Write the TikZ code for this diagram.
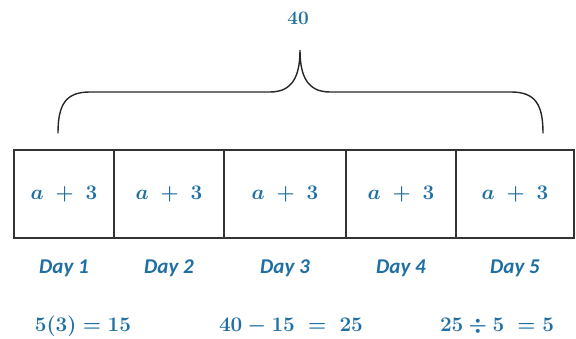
\documentclass[tikz,border=0pt]{standalone}
\usepackage{amsmath}
\usepackage{fontspec}
\newfontfamily\dayfont{Carlito}
\usepackage{xcolor}
\usepackage{tikz}
\usetikzlibrary{positioning}
\definecolor{tealblue}{HTML}{1F6FA3}
\definecolor{boxgray}{HTML}{333333}

\begin{document}
\begin{tikzpicture}[x=1pt,y=1pt,
  cell/.style={draw=boxgray,line width=1.3pt,outer sep=0pt,inner sep=0pt,minimum height=88pt,text=tealblue,font=\fontsize{22}{24}\selectfont\boldmath},
  day/.style={text=tealblue,font=\dayfont\bfseries\itshape\fontsize{21}{24}\selectfont},
  eqn/.style={text=tealblue,font=\fontsize{22}{24}\selectfont\boldmath},
  brace/.style={draw=black!85,line width=1.4pt,line cap=round}
]
\useasboundingbox (0,0) rectangle (576,339);
\node[cell,minimum width=100pt] (d1) at (64,145) {$a \;+\; 3$};
\node[cell,minimum width=110pt,right=0pt of d1] (d2) {$a \;+\; 3$};
\node[cell,minimum width=122pt,right=0pt of d2] (d3) {$a \;+\; 3$};
\node[cell,minimum width=110pt,right=0pt of d3] (d4) {$a \;+\; 3$};
\node[cell,minimum width=118pt,right=0pt of d4] (d5) {$a \;+\; 3$};
\node[day,below=18pt of d1] (l1) {Day 1};
\node[day,below=18pt of d2] (l2) {Day 2};
\node[day,below=18pt of d3] (l3) {Day 3};
\node[day,below=18pt of d4] (l4) {Day 4};
\node[day,below=18pt of d5] (l5) {Day 5};
\node[eqn] (e1) at (83,13) {$5(3) = 15$};
\node[eqn] (e2) at (291,13) {$40 - 15\ =\ 25$};
\node[eqn] (e3) at (497,13) {$25 \div 5\ = 5$};
\node[text=tealblue,font=\fontsize{19}{21}\selectfont\bfseries] (total) at (298,321) {40};
\draw[brace] (58,206) .. controls (58,235) and (66,247) .. (90,247) -- (270,247)
  .. controls (292,247) and (300,262) .. (300,289)
  .. controls (300,262) and (308,247) .. (330,247) -- (511,247)
  .. controls (535,247) and (543,235) .. (543,206);
\end{tikzpicture}
\end{document}
